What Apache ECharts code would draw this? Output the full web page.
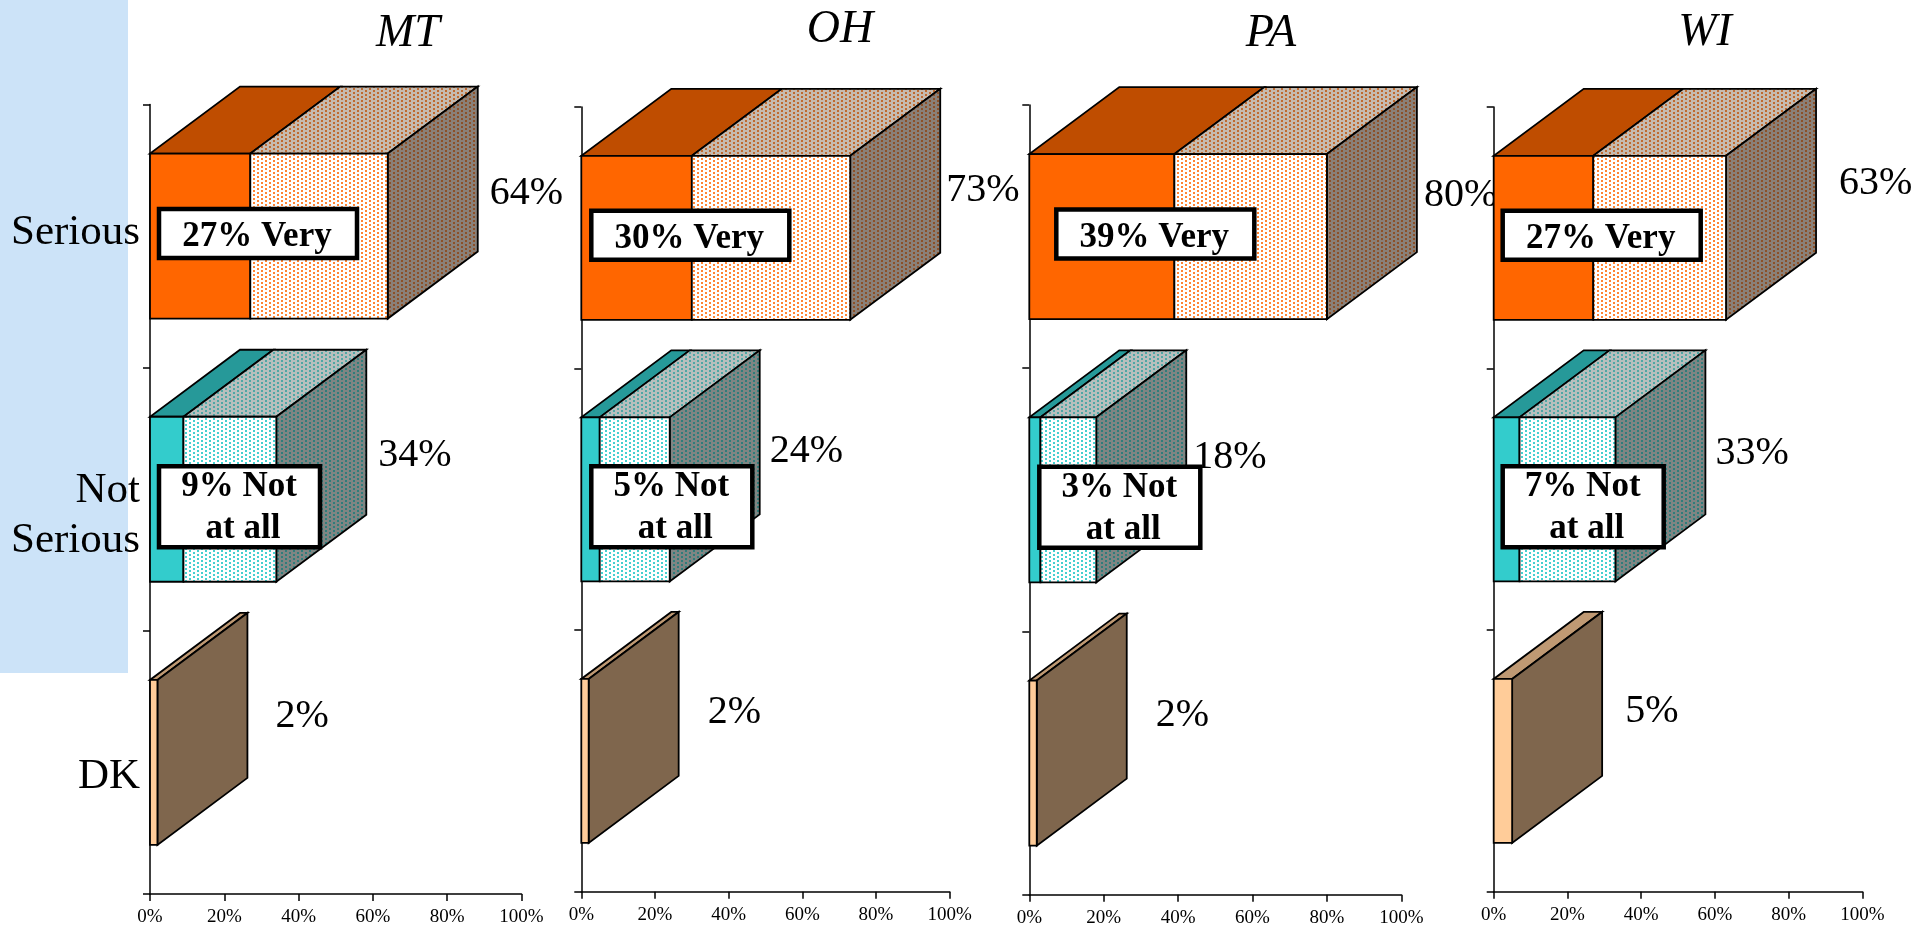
<!DOCTYPE html>
<html>
<head>
<meta charset="utf-8">
<style>html,body{margin:0;padding:0;background:#fff}#c{width:1929px;height:928px}</style>
<script src="https://cdn.jsdelivr.net/npm/echarts@6/dist/echarts.min.js"></script>
</head>
<body>
<div id="c"></div>
<script>
var categories = ['Serious', 'Not\nSerious', 'DK'];
var states = ['MT', 'OH', 'PA', 'WI'];
var tickValues = [0, 20, 40, 60, 80, 100];

// strongest share per category ("Very", "Not at all", DK)
var strongMT = [27, 9, 2];
var strongOH = [30, 5, 2];
var strongPA = [39, 3, 2];
var strongWI = [27, 7, 5];
// total per category
var totalMT = [64, 34, 2];
var totalOH = [73, 24, 2];
var totalPA = [80, 18, 2];
var totalWI = [63, 33, 5];

var strongs = [strongMT, strongOH, strongPA, strongWI];
var totals = [totalMT, totalOH, totalPA, totalWI];

// layout only
var panels = [
  {left:150,   right:521.5, top:104.5, bottom:894, titleX:408,  titleY:11,
   valDx:[12,12,28],  valDy:[-43,-44,-46], boxDx:[9,9]},
  {left:581.3, right:949.7, top:107,   bottom:891.7, titleX:840,  titleY:7,
   valDx:[6,10,29],   valDy:[-47,-48,-48], boxDx:[10,10]},
  {left:1029.3,right:1401.3,top:105,   bottom:894.7, titleX:1271, titleY:11,
   valDx:[7,7,29],    valDy:[-41,-42,-48], boxDx:[27,10]},
  {left:1493.7,right:1862.5,top:107,   bottom:891.7, titleX:1705, titleY:10,
   valDx:[23,10,23],  valDy:[-54,-46,-49], boxDx:[9,9]}
];
var catShift = [-3, 16, 14];
var depthX = 90, depthY = 67;

function pattern(bg, dot) {
  var c = document.createElement('canvas');
  c.width = 8; c.height = 4;
  var g = c.getContext('2d');
  g.fillStyle = bg; g.fillRect(0, 0, c.width, c.height);
  g.fillStyle = dot;
  g.fillRect(1, 0, 2, 2);
  g.fillRect(5, 2, 2, 2);
  return {image: c, repeat: 'repeat'};
}
var faces = [
  {front:'#FF6600', top:'#BF4D00', light:pattern('#FFFFFF','#FF8433'),
   lightTop:pattern('#C6BBB0','#BF6A30'), side:pattern('#8A8078','#8C5028')},
  {front:'#33CCCC', top:'#269999', light:pattern('#FFFFFF','#45D0D0'),
   lightTop:pattern('#B8BFBD','#4FA7A5'), side:pattern('#7F8583','#2F7D7B')},
  {front:'#FFCC99', top:'#BF9973', light:null, lightTop:null, side:'#7F664D'}
];

function poly(points, fill) {
  return {type:'polygon', shape:{points:points},
    style:{fill:fill, stroke:'#000', lineWidth:1.8, lineJoin:'miter'}};
}

function makeRender(panelIndex) {
  return function (params, api) {
    var i = params.dataIndex;
    var strong = api.value(0), total = api.value(1), cat = api.value(2);
    var p = panels[panelIndex];
    var band = api.size([0, 1])[1];
    var h = band * 0.627;
    var mid = api.coord([0, cat])[1];
    var x0 = api.coord([0, cat])[0];
    var x1 = api.coord([strong, cat])[0];
    var x2 = api.coord([total, cat])[0];
    var t = mid - h / 2, b = mid + h / 2;
    var f = faces[i];
    var kids = [];
    kids.push(poly([[x0,t],[x1,t],[x1+depthX,t-depthY],[x0+depthX,t-depthY]], f.top));
    if (total > strong) {
      kids.push(poly([[x1,t],[x2,t],[x2+depthX,t-depthY],[x1+depthX,t-depthY]], f.lightTop));
    }
    kids.push(poly([[x2,t],[x2+depthX,t-depthY],[x2+depthX,b-depthY],[x2,b]], f.side));
    kids.push(poly([[x0,t],[x1,t],[x1,b],[x0,b]], f.front));
    if (total > strong) {
      kids.push(poly([[x1,t],[x2,t],[x2,b],[x1,b]], f.light));
    }
    kids.push({type:'text', x:x2 + depthX + p.valDx[i], y:mid + p.valDy[i],
      style:{text: total + '%', font:'40px "Liberation Serif"', fill:'#000',
             textAlign:'left', textVerticalAlign:'middle'}});
    var boldFont = 'bold 35px "Liberation Serif"';
    if (i === 0) {
      var bx = x0 + p.boxDx[0], by = mid - 27;
      kids.push({type:'rect', shape:{x:bx, y:by, width:198, height:49},
        style:{fill:'#fff', stroke:'#000', lineWidth:4.5}});
      kids.push({type:'text', x:bx + 98, y:by + 28,
        style:{text: strong + '% Very', font:boldFont, fill:'#000', textAlign:'center', textVerticalAlign:'middle'}});
    } else if (i === 1) {
      var cx = x0 + p.boxDx[1], cy = mid - 33;
      kids.push({type:'rect', shape:{x:cx, y:cy, width:161, height:81},
        style:{fill:'#fff', stroke:'#000', lineWidth:4.5}});
      kids.push({type:'text', x:cx + 80, y:cy + 21,
        style:{text: strong + '% Not', font:boldFont, fill:'#000', textAlign:'center', textVerticalAlign:'middle'}});
      kids.push({type:'text', x:cx + 84, y:cy + 63,
        style:{text: 'at all', font:boldFont, fill:'#000', textAlign:'center', textVerticalAlign:'middle'}});
    }
    return {type:'group', children:kids};
  };
}

var catFont = {fontFamily:'Liberation Serif', fontSize:43, lineHeight:50, color:'#000'};
var rich = {t:catFont};
catShift.forEach(function (s) {
  rich['s' + Math.abs(s)] = {fontSize:1, lineHeight:2 * Math.abs(s)};
});
function catLabel(value, index) {
  var s = catShift[index];
  var lines = value.split('\n').map(function (l) { return '{t|' + l + '}'; });
  if (s > 0) lines.unshift('{s' + s + '| }');
  if (s < 0) lines.push('{s' + (-s) + '| }');
  return lines.join('\n');
}

var grids = [], xAxes = [], yAxes = [], series = [], titles = [];
panels.forEach(function (p, k) {
  grids.push({left:p.left, width:p.right - p.left, top:p.top, height:p.bottom - p.top, containLabel:false});
  xAxes.push({type:'value', gridIndex:k, min:tickValues[0], max:tickValues[tickValues.length-1], interval:20,
    axisLine:{show:true, onZero:false, lineStyle:{color:'#000', width:1.5}},
    axisTick:{show:true, length:7, lineStyle:{color:'#000', width:1.5}},
    splitLine:{show:false},
    axisLabel:{color:'#000', fontFamily:'Liberation Serif', fontSize:19, margin:14, showMaxLabel:true, showMinLabel:true,
      formatter:function (v) { return v + '%'; }}});
  yAxes.push({type:'category', gridIndex:k, data:categories, inverse:true,
    axisLine:{show:true, onZero:false, lineStyle:{color:'#000', width:1.5}},
    axisTick:{show:true, length:7, alignWithLabel:false, lineStyle:{color:'#000', width:1.5}},
    splitLine:{show:false},
    axisLabel:{show:k === 0, color:'#000', margin:10, align:'right', interval:0,
      formatter:catLabel, rich:rich}});
  series.push({type:'custom', xAxisIndex:k, yAxisIndex:k, z:5, clip:false,
    encode:{x:[0,1], y:2},
    renderItem:makeRender(k),
    data:strongs[k].map(function (v, j) { return [v, totals[k][j], j]; })});
  titles.push({text:states[k], left:p.titleX, top:p.titleY, textAlign:'center', padding:0,
    textStyle:{fontFamily:'Liberation Serif', fontStyle:'italic', fontWeight:'normal', fontSize:46, color:'#000'}});
});

var chart = echarts.init(document.getElementById('c'), null, {renderer:'canvas'});
chart.setOption({
  backgroundColor:'#fff',
  animation:false,
  title:titles,
  graphic:[{type:'rect', z:-10, silent:true, shape:{x:0, y:0, width:128, height:673}, style:{fill:'#CCE3F8'}}],
  grid:grids, xAxis:xAxes, yAxis:yAxes, series:series
});
</script>
</body>
</html>
